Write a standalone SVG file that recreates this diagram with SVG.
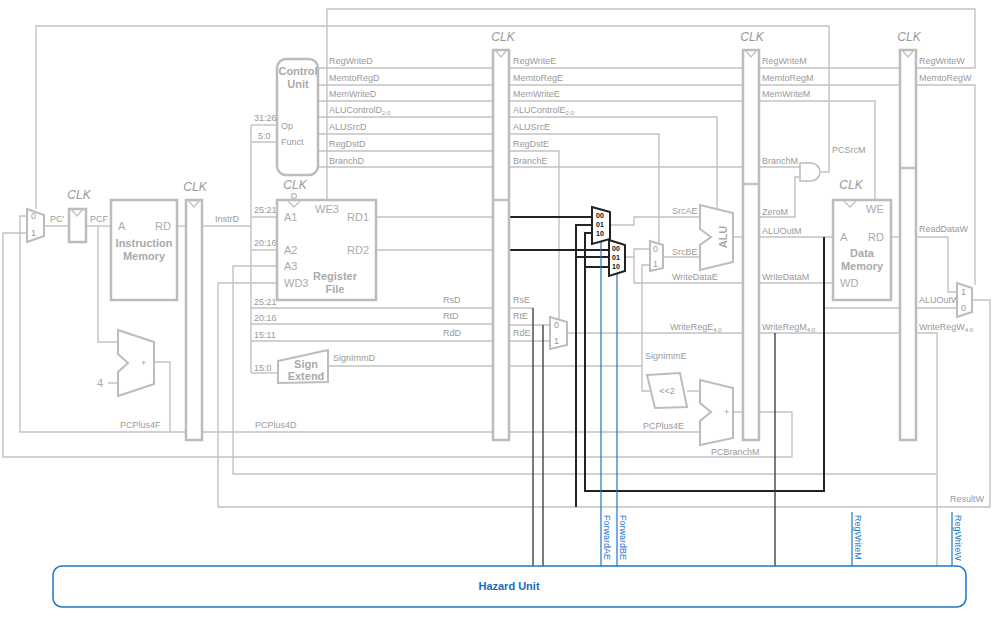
<svg xmlns="http://www.w3.org/2000/svg" width="999" height="624" viewBox="0 0 999 624">
<style>
.w{fill:none;stroke:#c2c2c2;stroke-width:1.4}
.k{fill:none;stroke:#222;stroke-width:2}
.k1{fill:none;stroke:#333;stroke-width:1.3}
.b{fill:none;stroke:#1a78c8;stroke-width:1.2}
.box{fill:#fff;stroke:#bcbcbc;stroke-width:2.5}
.t{font-family:"Liberation Sans",Arial,sans-serif;font-size:9px;fill:#9a9a9a}
.bt{font-family:"Liberation Sans",Arial,sans-serif;font-size:11px;font-weight:bold;fill:#aaa;text-anchor:middle}
.p{font-family:"Liberation Sans",Arial,sans-serif;font-size:11px;fill:#aaa}
.c{font-family:"Liberation Sans",Arial,sans-serif;font-size:12px;font-style:italic;fill:#999;text-anchor:middle}
.m{font-family:"Liberation Sans",Arial,sans-serif;font-size:7px;fill:#111;font-weight:bold}
.bl{font-family:"Liberation Sans",Arial,sans-serif;font-size:9px;fill:#1a78c8}
</style>
<g id="connectors">
<polyline class="w" points="36,209 36,26 829,26 829,172 821,172"/>
<polyline class="w" points="327,200 327,9 975,9 975,68 916,68"/>
<polyline class="w" points="27,216 20,216 20,432 186,432"/>
<polyline class="w" points="27,233 3,233 3,457 792,457 792,412 758,412"/>
<line class="w" x1="44" y1="226" x2="69" y2="226"/>
<line class="w" x1="86" y1="226" x2="111" y2="226"/>
<polyline class="w" points="98,226 98,342 118,342"/>
<line class="w" x1="108" y1="383" x2="118" y2="383"/>
<polyline class="w" points="154,362 170,362 170,432"/>
<line class="w" x1="177" y1="226" x2="186" y2="226"/>
<polyline class="w" points="202,226 251,226"/>
<line class="w" x1="251" y1="125" x2="251" y2="373"/>
<line class="w" x1="251" y1="125" x2="277" y2="125"/>
<line class="w" x1="251" y1="142" x2="277" y2="142"/>
<line class="w" x1="251" y1="217" x2="277" y2="217"/>
<line class="w" x1="251" y1="250" x2="277" y2="250"/>
<line class="w" x1="251" y1="308" x2="493" y2="308"/>
<line class="w" x1="251" y1="324" x2="493" y2="324"/>
<line class="w" x1="251" y1="341" x2="493" y2="341"/>
<line class="w" x1="251" y1="373" x2="278" y2="373"/>
<line class="w" x1="328" y1="366" x2="493" y2="366"/>
<line class="w" x1="202" y1="432" x2="493" y2="432"/>
<polyline class="w" points="277,266 233,266 233,474 937,474"/>
<polyline class="w" points="277,283 218,283 218,507 990,507 990,300 972,300"/>
<line class="w" x1="318" y1="68" x2="493" y2="68"/>
<line class="w" x1="318" y1="85" x2="493" y2="85"/>
<line class="w" x1="318" y1="101" x2="493" y2="101"/>
<line class="w" x1="318" y1="117" x2="493" y2="117"/>
<line class="w" x1="318" y1="134" x2="493" y2="134"/>
<line class="w" x1="318" y1="151" x2="493" y2="151"/>
<line class="w" x1="318" y1="167" x2="493" y2="167"/>
<line class="w" x1="376" y1="217" x2="493" y2="217"/>
<line class="w" x1="376" y1="250" x2="493" y2="250"/>
<line class="w" x1="509" y1="68" x2="743" y2="68"/>
<line class="w" x1="509" y1="85" x2="743" y2="85"/>
<line class="w" x1="509" y1="101" x2="743" y2="101"/>
<polyline class="w" points="509,117 717,117 717,211"/>
<polyline class="w" points="509,134 659,134 659,243"/>
<polyline class="w" points="509,151 559,151 559,319"/>
<line class="w" x1="509" y1="167" x2="743" y2="167"/>
<polyline class="w" points="610,225 634,225 634,217 700,217"/>
<polyline class="w" points="625,257 634,257 634,249 650,249"/>
<polyline class="w" points="634,257 634,283 743,283"/>
<line class="w" x1="663" y1="257" x2="700" y2="257"/>
<line class="w" x1="733" y1="237" x2="743" y2="237"/>
<polyline class="w" points="509,366 642,366"/>
<polyline class="w" points="650,265 642,265 642,391 650,391"/>
<line class="w" x1="687" y1="391" x2="700" y2="391"/>
<line class="w" x1="509" y1="432" x2="700" y2="432"/>
<line class="w" x1="733" y1="412" x2="743" y2="412"/>
<line class="w" x1="509" y1="308" x2="533" y2="308"/>
<line class="w" x1="509" y1="325" x2="550" y2="325"/>
<line class="w" x1="509" y1="341" x2="550" y2="341"/>
<line class="w" x1="567" y1="333" x2="743" y2="333"/>
<line class="w" x1="758" y1="68" x2="900" y2="68"/>
<line class="w" x1="758" y1="85" x2="900" y2="85"/>
<polyline class="w" points="758,101 875,101 875,200"/>
<polyline class="w" points="758,167 800,167"/>
<polyline class="w" points="758,217 795,217 795,177 800,177"/>
<line class="w" x1="758" y1="237" x2="833" y2="237"/>
<line class="w" x1="758" y1="283" x2="833" y2="283"/>
<polyline class="w" points="824,237 824,308 900,308"/>
<line class="w" x1="758" y1="333" x2="900" y2="333"/>
<polyline class="w" points="916,85 975,85 975,285"/>
<line class="w" x1="891" y1="237" x2="900" y2="237"/>
<polyline class="w" points="916,237 948,237 948,292 957,292"/>
<line class="w" x1="916" y1="308" x2="957" y2="308"/>
<polyline class="w" points="916,333 937,333 937,566"/>
<line class="k" x1="509" y1="217" x2="592" y2="217"/>
<line class="k" x1="509" y1="250" x2="609" y2="250"/>
<polyline class="k" points="592,225 576,225 576,507"/>
<line class="k" x1="576" y1="257" x2="609" y2="257"/>
<polyline class="k" points="592,233 585,233 585,491 824,491 824,237"/>
<line class="k" x1="585" y1="267" x2="609" y2="267"/>
<polyline class="k1" points="533,308 533,566"/>
<polyline class="k1" points="543,325 543,566"/>
<polyline class="k1" points="775,333 775,566"/>
<line class="b" x1="601" y1="241" x2="601" y2="566"/>
<line class="b" x1="617" y1="273" x2="617" y2="566"/>
<line class="b" x1="852" y1="512" x2="852" y2="566"/>
<line class="b" x1="952" y1="512" x2="952" y2="566"/>
</g>
<g id="pcmux"><polygon class="box" points="27,209 44,215 44,236 27,242" style="stroke-width:2"/><text class="t" x="31" y="219">0</text><text class="t" x="31" y="236">1</text><text class="t" x="50" y="222">PC'</text></g>
<g id="pcreg"><rect class="box" x="69" y="209" width="17" height="33"/><polyline class="w" points="71,209 77,216 83,209"/><text class="c" x="79" y="199">CLK</text><text class="t" x="90" y="222">PCF</text></g>
<g id="imem"><rect class="box" x="111" y="200" width="66" height="100"/><text class="p" x="118" y="230">A</text><text class="p" x="155" y="230">RD</text><text class="bt" x="144" y="247">Instruction</text><text class="bt" x="144" y="260">Memory</text></g>
<g id="pcadder"><polygon class="box" points="118,330 154,342 154,384 118,396 118,372 128,363 118,354" style="stroke-width:2"/><text class="t" x="141" y="366">+</text><text class="p" x="97" y="387">4</text><text class="t" x="120" y="428">PCPlus4F</text></g>
<g id="regFD"><rect class="box" x="186" y="200" width="16" height="240"/><polyline class="w" points="188,200 194,207 200,200"/><text class="c" x="195" y="191">CLK</text><text class="t" x="215" y="222">InstrD</text><text class="t" x="255" y="428">PCPlus4D</text></g>
<g id="control"><rect class="box" x="277" y="59" width="41" height="116" rx="9"/><text class="bt" x="298" y="75" font-size="10">Control</text><text class="bt" x="298" y="88" font-size="10">Unit</text><text class="t" x="281" y="129">Op</text><text class="t" x="281" y="145">Funct</text>
<text class="t" x="329" y="64">RegWriteD</text><text class="t" x="329" y="81">MemtoRegD</text><text class="t" x="329" y="97">MemWriteD</text><text class="t" x="329" y="113">ALUControlD<tspan font-size="6" dy="2">2:0</tspan></text><text class="t" x="329" y="130">ALUSrcD</text><text class="t" x="329" y="147">RegDstD</text><text class="t" x="329" y="164">BranchD</text></g>
<g id="bits"><text class="t" x="254" y="121" font-size="7.5">31:26</text><text class="t" x="258" y="139" font-size="7.5">5:0</text><text class="t" x="254" y="213" font-size="7.5">25:21</text><text class="t" x="254" y="246" font-size="7.5">20:16</text><text class="t" x="254" y="305" font-size="7.5">25:21</text><text class="t" x="254" y="321" font-size="7.5">20:16</text><text class="t" x="254" y="338" font-size="7.5">15:11</text><text class="t" x="254" y="371" font-size="7.5">15:0</text>
<text class="t" x="443" y="303">RsD</text><text class="t" x="443" y="319">RtD</text><text class="t" x="443" y="336">RdD</text><text class="t" x="333" y="361">SignImmD</text></g>
<g id="regfile"><rect class="box" x="277" y="200" width="99" height="100"/><polyline class="w" points="287,200 294,207 301,200"/><circle cx="294" cy="196" r="2.5" class="w"/><text class="c" x="295" y="189">CLK</text><text class="p" x="284" y="221">A1</text><text class="p" x="315" y="213">WE3</text><text class="p" x="347" y="221">RD1</text><text class="p" x="284" y="254">A2</text><text class="p" x="347" y="254">RD2</text><text class="p" x="284" y="270">A3</text><text class="p" x="284" y="287">WD3</text><text class="bt" x="335" y="280">Register</text><text class="bt" x="335" y="293">File</text></g>
<g id="signext"><polygon class="box" points="278,361 328,350 328,382 278,383" style="stroke-width:2"/><text class="bt" x="306" y="368">Sign</text><text class="bt" x="306" y="380">Extend</text></g>
<g id="regDE"><rect class="box" x="493" y="50" width="16" height="390"/><line class="w" x1="493" y1="200" x2="509" y2="200" style="stroke-width:2.5"/><polyline class="w" points="495,50 501,57 507,50"/><text class="c" x="503" y="41">CLK</text>
<text class="t" x="513" y="64">RegWriteE</text><text class="t" x="513" y="81">MemtoRegE</text><text class="t" x="513" y="97">MemWriteE</text><text class="t" x="513" y="113">ALUControlE<tspan font-size="6" dy="2">2:0</tspan></text><text class="t" x="513" y="130">ALUSrcE</text><text class="t" x="513" y="147">RegDstE</text><text class="t" x="513" y="164">BranchE</text>
<text class="t" x="513" y="303">RsE</text><text class="t" x="513" y="319">RtE</text><text class="t" x="513" y="336">RdE</text></g>
<g id="fwdA"><polygon points="592,207 610,212 610,239 592,244" fill="#fff" stroke="#222" stroke-width="2"/><text class="m" x="596" y="218">00</text><text class="m" x="596" y="227">01</text><text class="m" x="596" y="236">10</text></g>
<g id="fwdB"><polygon points="609,240 625,245 625,271 609,276" fill="#fff" stroke="#222" stroke-width="2"/><text class="m" x="612" y="251">00</text><text class="m" x="612" y="260">01</text><text class="m" x="612" y="269">10</text></g>
<g id="regdstmux"><polygon class="box" points="550,317 567,322 567,345 550,349" style="stroke-width:2"/><text class="t" x="554" y="328">0</text><text class="t" x="554" y="344">1</text></g>
<g id="srcbmux"><polygon class="box" points="650,241 663,245 663,268 650,271" style="stroke-width:2"/><text class="t" x="653" y="252">0</text><text class="t" x="653" y="267">1</text></g>
<g id="alu"><polygon class="box" points="700,205 733,213 733,262 700,270 700,245 711,237 700,229" style="stroke-width:2"/><text class="bt" transform="translate(727,237) rotate(-90)" font-weight="normal" font-size="12">ALU</text>
<text class="t" x="672" y="214">SrcAE</text><text class="t" x="672" y="255">SrcBE</text><text class="t" x="672" y="280">WriteDataE</text><text class="t" x="670" y="330">WriteRegE<tspan font-size="6" dy="2">4:0</tspan></text><text class="t" x="645" y="359">SignImmE</text><text class="t" x="643" y="429">PCPlus4E</text></g>
<g id="sl2"><polygon class="box" points="647,375 680,373 687,407 655,408" style="stroke-width:2"/><text class="t" x="667" y="394" text-anchor="middle">&lt;&lt;2</text></g>
<g id="bradder"><polygon class="box" points="700,380 733,388 733,438 700,445 700,421 711,412 700,403" style="stroke-width:2"/><text class="t" x="724" y="415">+</text><text class="t" x="711" y="455">PCBranchM</text></g>
<g id="regEM"><rect class="box" x="743" y="50" width="16" height="390"/><line class="w" x1="743" y1="184" x2="759" y2="184" style="stroke-width:2.5"/><polyline class="w" points="745,50 751,57 757,50"/><text class="c" x="752" y="41">CLK</text>
<text class="t" x="762" y="64">RegWriteM</text><text class="t" x="762" y="81">MemtoRegM</text><text class="t" x="762" y="97">MemWriteM</text><text class="t" x="762" y="164">BranchM</text><text class="t" x="762" y="215">ZeroM</text><text class="t" x="762" y="234">ALUOutM</text><text class="t" x="762" y="280">WriteDataM</text><text class="t" x="762" y="330">WriteRegM<tspan font-size="6" dy="2">4:0</tspan></text></g>
<g id="and"><path class="box" d="M800,163 H811 A9,9 0 0 1 811,181 H800 Z" style="stroke-width:1.5"/><text class="t" x="832" y="153">PCSrcM</text></g>
<g id="dmem"><rect class="box" x="833" y="200" width="58" height="100"/><polyline class="w" points="843,200 850,207 857,200"/><text class="c" x="851" y="189">CLK</text><text class="p" x="866" y="213">WE</text><text class="p" x="840" y="241">A</text><text class="p" x="868" y="241">RD</text><text class="bt" x="862" y="257">Data</text><text class="bt" x="862" y="270">Memory</text><text class="p" x="840" y="287">WD</text></g>
<g id="regMW"><rect class="box" x="900" y="50" width="16" height="390"/><line class="w" x1="900" y1="168" x2="916" y2="168" style="stroke-width:2.5"/><polyline class="w" points="902,50 908,57 914,50"/><text class="c" x="909" y="41">CLK</text>
<text class="t" x="919" y="64">RegWriteW</text><text class="t" x="919" y="81">MemtoRegW</text><text class="t" x="919" y="232">ReadDataW</text><text class="t" x="919" y="303">ALUOutW</text><text class="t" x="919" y="330">WriteRegW<tspan font-size="6" dy="2">4:0</tspan></text><text class="t" x="950" y="502">ResultW</text></g>
<g id="wbmux"><polygon class="box" points="957,283 972,288 972,312 957,317" style="stroke-width:2"/><text class="t" x="961" y="295">1</text><text class="t" x="961" y="311">0</text></g>
<g id="hazard"><rect x="53" y="566" width="913" height="41" rx="9" fill="#fff" stroke="#1a78c8" stroke-width="1.5"/><text x="509" y="590" text-anchor="middle" font-family="Liberation Sans,Arial,sans-serif" font-size="11" font-weight="bold" fill="#1a6ab8">Hazard Unit</text>
<text class="bl" transform="translate(604,515) rotate(90)">ForwardAE</text><text class="bl" transform="translate(620,515) rotate(90)">ForwardBE</text><text class="bl" transform="translate(855,515) rotate(90)">RegWriteM</text><text class="bl" transform="translate(955,515) rotate(90)">RegWriteW</text></g>
</svg>
